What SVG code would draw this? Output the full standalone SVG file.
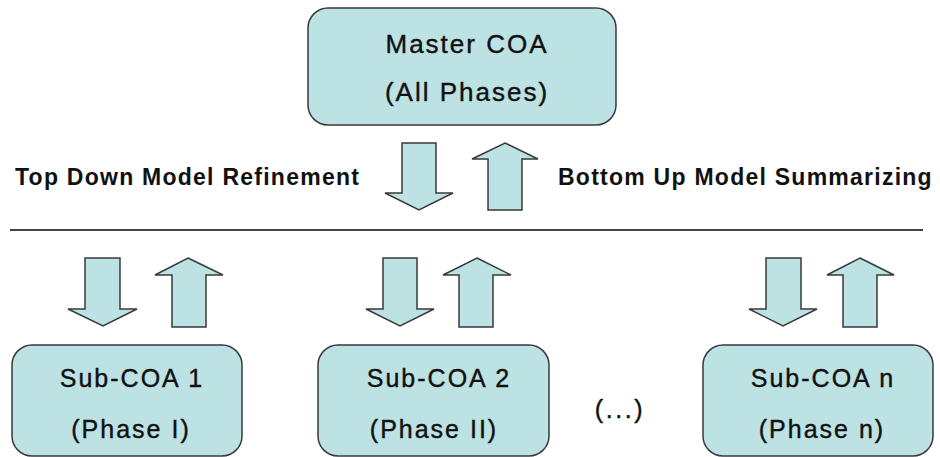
<svg xmlns="http://www.w3.org/2000/svg" width="940" height="457" viewBox="0 0 940 457">
<style>
.box{fill:#bde2e4;stroke:#3a3a3a;stroke-width:1.5}
.arr{fill:#bde2e4;stroke:#3a3a3a;stroke-width:1.5;stroke-linejoin:miter}
.t{font-family:"Liberation Sans",Arial,sans-serif;fill:#111;stroke:#111;stroke-width:0.4;text-anchor:middle}
.big{font-size:26px;letter-spacing:2px}
.mid{font-size:25px;letter-spacing:2px}
.lab{font-family:"Liberation Sans",Arial,sans-serif;font-weight:bold;font-size:23px;letter-spacing:1.25px;fill:#111}
</style>
<rect width="940" height="457" fill="#fff"/>
<g id="master">
<rect class="box" x="308" y="8" width="308" height="117" rx="20"/>
<text class="t big" x="467" y="53">Master COA</text>
<text class="t big" x="467" y="101">(All Phases)</text>
</g>
<g id="sub1">
<rect class="box" x="12" y="345" width="230" height="111" rx="20"/>
<text class="t mid" x="132" y="387">Sub-COA 1</text>
<text class="t mid" x="131" y="438">(Phase I)</text>
</g>
<g id="sub2">
<rect class="box" x="318" y="345" width="231" height="111" rx="20"/>
<text class="t mid" x="439" y="387">Sub-COA 2</text>
<text class="t mid" x="434" y="438">(Phase II)</text>
</g>
<g id="subn">
<rect class="box" x="703" y="345" width="230" height="111" rx="20"/>
<text class="t mid" x="823" y="387">Sub-COA n</text>
<text class="t mid" x="822" y="438">(Phase n)</text>
</g>
<g id="ellipsis">
<text class="t mid" x="620" y="418" style="letter-spacing:2.6px">(...)</text>
</g>
<g id="labels">
<text class="lab" x="15" y="185">Top Down Model Refinement</text>
<text class="lab" x="558" y="185">Bottom Up Model Summarizing</text>
</g>
<g id="connectors">
<line x1="10" y1="230" x2="923" y2="230" stroke="#444" stroke-width="2"/>
<path class="arr" d="M402,143 L436,143 L436,193 L453,193 L419,210 L385,193 L402,193 Z"/>
<path class="arr" d="M505,143 L538,159 L522,159 L522,210 L488,210 L488,159 L472,159 Z"/>
<path class="arr" d="M85,258 L120,258 L120,309 L137,309 L103,326 L68,309 L85,309 Z"/>
<path class="arr" d="M188,258 L223,275 L206,275 L206,327 L172,327 L172,275 L155,275 Z"/>
<path class="arr" d="M383,258 L417,258 L417,309 L434,309 L400,326 L366,309 L383,309 Z"/>
<path class="arr" d="M477,258 L511,275 L493,275 L493,327 L459,327 L459,275 L443,275 Z"/>
<path class="arr" d="M766,258 L801,258 L801,309 L817,309 L783,326 L749,309 L766,309 Z"/>
<path class="arr" d="M860,258 L894,275 L877,275 L877,327 L843,327 L843,275 L827,275 Z"/>
</g>
</svg>
